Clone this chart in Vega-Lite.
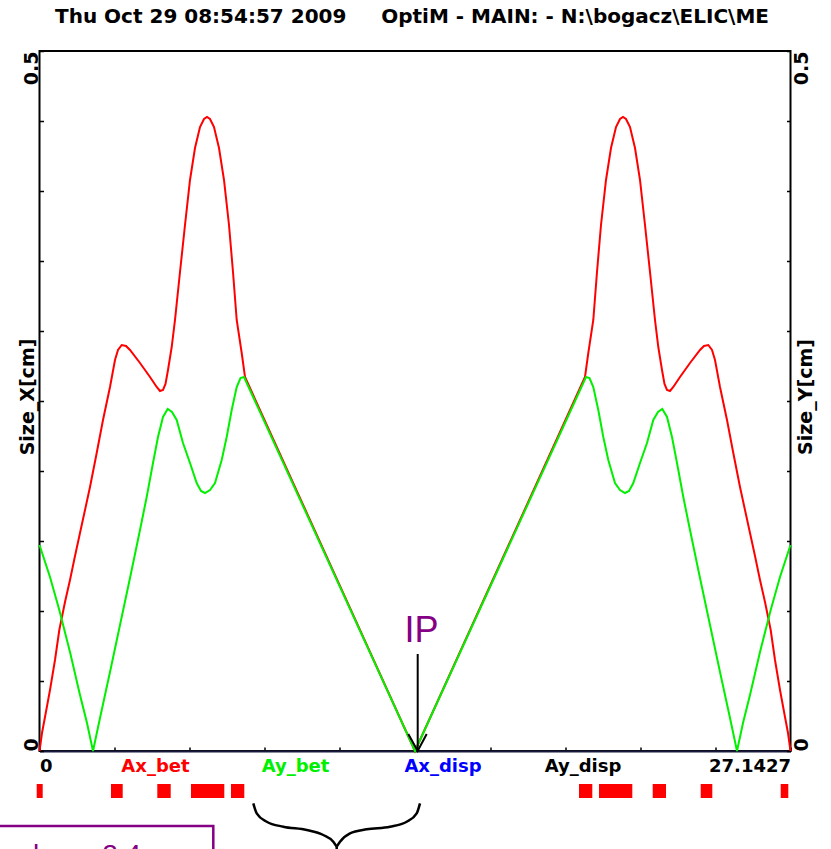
{
  "$schema": "https://vega.github.io/schema/vega-lite/v6.json",
  "width": 751,
  "height": 700,
  "autosize": {"type": "none"},
  "padding": {"left": 39.5, "top": 51, "right": 40.5, "bottom": 98},
  "title": {
    "text": "Thu Oct 29 08:54:57 2009\u00a0\u00a0\u00a0\u00a0\u00a0OptiM - MAIN: - N:\\bogacz\\ELIC\\ME",
    "anchor": "start",
    "frame": "group",
    "dx": 15.5,
    "offset": 7,
    "baseline": "alphabetic",
    "font": "DejaVu Sans",
    "fontSize": 20,
    "fontWeight": "bold",
    "color": "#000000"
  },
  "config": {
    "view": {"stroke": "#000000", "strokeWidth": 2},
    "font": "DejaVu Sans"
  },
  "datasets": {
    "red": [
      {"s": 0, "size": 0}, {"s": 0.0904, "size": 0.01286}, {"s": 0.1988, "size": 0.02429}, {"s": 0.3795, "size": 0.04357},
      {"s": 0.5602, "size": 0.065}, {"s": 0.7156, "size": 0.08643}, {"s": 0.9216, "size": 0.10643}, {"s": 1.1023, "size": 0.12214},
      {"s": 1.283, "size": 0.13929}, {"s": 1.4637, "size": 0.15571}, {"s": 1.6445, "size": 0.17214}, {"s": 1.8252, "size": 0.18857},
      {"s": 2.0673, "size": 0.21286}, {"s": 2.295, "size": 0.23643}, {"s": 2.548, "size": 0.26}, {"s": 2.7287, "size": 0.27929},
      {"s": 2.8372, "size": 0.28643}, {"s": 2.9709, "size": 0.29}, {"s": 3.1263, "size": 0.28929}, {"s": 3.2709, "size": 0.28643},
      {"s": 3.6323, "size": 0.27714}, {"s": 3.9937, "size": 0.26714}, {"s": 4.2359, "size": 0.26}, {"s": 4.3551, "size": 0.25714},
      {"s": 4.4636, "size": 0.25786}, {"s": 4.5539, "size": 0.26214}, {"s": 4.6443, "size": 0.27214}, {"s": 4.778, "size": 0.28857},
      {"s": 4.8973, "size": 0.30786}, {"s": 5.078, "size": 0.34214}, {"s": 5.2587, "size": 0.37571}, {"s": 5.4394, "size": 0.40786},
      {"s": 5.6201, "size": 0.43071}, {"s": 5.8008, "size": 0.44571}, {"s": 5.9454, "size": 0.45143}, {"s": 6.0538, "size": 0.45286},
      {"s": 6.1622, "size": 0.45143}, {"s": 6.3068, "size": 0.44571}, {"s": 6.4875, "size": 0.43071}, {"s": 6.6682, "size": 0.40786},
      {"s": 6.8489, "size": 0.37571}, {"s": 6.9935, "size": 0.34214}, {"s": 7.1272, "size": 0.30786}, {"s": 7.3079, "size": 0.28429},
      {"s": 7.4272, "size": 0.26714},
      {"s": 13.57135, "size": 0},
      {"s": 19.7155, "size": 0.26714}, {"s": 19.8348, "size": 0.28429}, {"s": 20.0155, "size": 0.30786}, {"s": 20.1492, "size": 0.34214},
      {"s": 20.2938, "size": 0.37571}, {"s": 20.4745, "size": 0.40786}, {"s": 20.6552, "size": 0.43071}, {"s": 20.8359, "size": 0.44571},
      {"s": 20.9805, "size": 0.45143}, {"s": 21.0889, "size": 0.45286}, {"s": 21.1973, "size": 0.45143}, {"s": 21.3419, "size": 0.44571},
      {"s": 21.5226, "size": 0.43071}, {"s": 21.7033, "size": 0.40786}, {"s": 21.884, "size": 0.37571}, {"s": 22.0647, "size": 0.34214},
      {"s": 22.2454, "size": 0.30786}, {"s": 22.3647, "size": 0.28857}, {"s": 22.4984, "size": 0.27214}, {"s": 22.5888, "size": 0.26214},
      {"s": 22.6791, "size": 0.25786}, {"s": 22.7876, "size": 0.25714}, {"s": 22.9068, "size": 0.26}, {"s": 23.149, "size": 0.26714},
      {"s": 23.5104, "size": 0.27714}, {"s": 23.8718, "size": 0.28643}, {"s": 24.0164, "size": 0.28929}, {"s": 24.1718, "size": 0.29},
      {"s": 24.3055, "size": 0.28643}, {"s": 24.414, "size": 0.27929}, {"s": 24.5947, "size": 0.26}, {"s": 24.8477, "size": 0.23643},
      {"s": 25.0754, "size": 0.21286}, {"s": 25.3175, "size": 0.18857}, {"s": 25.4982, "size": 0.17214}, {"s": 25.679, "size": 0.15571},
      {"s": 25.8597, "size": 0.13929}, {"s": 26.0404, "size": 0.12214}, {"s": 26.2211, "size": 0.10643}, {"s": 26.4271, "size": 0.08643},
      {"s": 26.5825, "size": 0.065}, {"s": 26.7632, "size": 0.04357}, {"s": 26.9439, "size": 0.02429}, {"s": 27.0523, "size": 0.01286},
      {"s": 27.1427, "size": 0}
    ],
    "green": [
      {"s": 0, "size": 0.14714}, {"s": 0.3795, "size": 0.12429}, {"s": 0.7156, "size": 0.10071}, {"s": 1.1023, "size": 0.07071},
      {"s": 1.4637, "size": 0.04}, {"s": 1.7168, "size": 0.02}, {"s": 1.9336, "size": 0}, {"s": 2.1866, "size": 0.02357},
      {"s": 2.548, "size": 0.05643}, {"s": 2.9094, "size": 0.09}, {"s": 3.2709, "size": 0.12357}, {"s": 3.6323, "size": 0.15786},
      {"s": 3.8744, "size": 0.18143}, {"s": 4.1021, "size": 0.20571}, {"s": 4.2828, "size": 0.22429}, {"s": 4.4636, "size": 0.23857},
      {"s": 4.6334, "size": 0.24429}, {"s": 4.7888, "size": 0.24214}, {"s": 4.9587, "size": 0.23643}, {"s": 5.1864, "size": 0.22},
      {"s": 5.4394, "size": 0.20571}, {"s": 5.6815, "size": 0.19143}, {"s": 5.8369, "size": 0.18571}, {"s": 5.9815, "size": 0.18429},
      {"s": 6.1622, "size": 0.18643}, {"s": 6.3429, "size": 0.19143}, {"s": 6.5851, "size": 0.20786}, {"s": 6.7658, "size": 0.22429},
      {"s": 6.9465, "size": 0.24357}, {"s": 7.1272, "size": 0.26}, {"s": 7.2645, "size": 0.26643}, {"s": 7.391, "size": 0.26714},
      {"s": 13.57135, "size": 0},
      {"s": 19.7517, "size": 0.26714}, {"s": 19.8782, "size": 0.26643}, {"s": 20.0155, "size": 0.26}, {"s": 20.1962, "size": 0.24357},
      {"s": 20.3769, "size": 0.22429}, {"s": 20.5576, "size": 0.20786}, {"s": 20.7998, "size": 0.19143}, {"s": 20.9805, "size": 0.18643},
      {"s": 21.1612, "size": 0.18429}, {"s": 21.3058, "size": 0.18571}, {"s": 21.4612, "size": 0.19143}, {"s": 21.7033, "size": 0.20571},
      {"s": 21.9563, "size": 0.22}, {"s": 22.184, "size": 0.23643}, {"s": 22.3539, "size": 0.24214}, {"s": 22.5093, "size": 0.24429},
      {"s": 22.6791, "size": 0.23857}, {"s": 22.8599, "size": 0.22429}, {"s": 23.0406, "size": 0.20571}, {"s": 23.2683, "size": 0.18143},
      {"s": 23.5104, "size": 0.15786}, {"s": 23.8718, "size": 0.12357}, {"s": 24.2333, "size": 0.09}, {"s": 24.5947, "size": 0.05643},
      {"s": 24.9561, "size": 0.02357}, {"s": 25.2091, "size": 0}, {"s": 25.4259, "size": 0.02}, {"s": 25.679, "size": 0.04},
      {"s": 26.0404, "size": 0.07071}, {"s": 26.4271, "size": 0.10071}, {"s": 26.7632, "size": 0.12429}, {"s": 27.1427, "size": 0.14714}
    ],
    "elements": [
      {"s1": -0.1012, "s2": 0.1157}, {"s1": 2.5842, "s2": 3.007}, {"s1": 4.2576, "s2": 4.7418}, {"s1": 5.4755, "s2": 6.6791},
      {"s1": 6.9212, "s2": 7.4019}, {"s1": 19.4987, "s2": 19.9794}, {"s1": 20.2215, "s2": 21.425}, {"s1": 22.1623, "s2": 22.643},
      {"s1": 23.8972, "s2": 24.3164}, {"s1": 26.7885, "s2": 27.0632}
    ],
    "arrowhead": [
      {"s": 13.329, "v": 0.01214}, {"s": 13.669, "v": 0}, {"s": 13.994, "v": 0.01214}
    ],
    "brace": [
      {"part": "left", "s": 7.7272, "v": -0.03736}, {"part": "left", "s": 7.8501, "v": -0.0445}, {"part": "left", "s": 8.2115, "v": -0.0505},
      {"part": "left", "s": 8.8114, "v": -0.05407}, {"part": "left", "s": 9.6572, "v": -0.05643}, {"part": "left", "s": 10.2571, "v": -0.06},
      {"part": "left", "s": 10.6186, "v": -0.06479}, {"part": "left", "s": 10.7415, "v": -0.06836},
      {"part": "right", "s": 10.7415, "v": -0.06836}, {"part": "right", "s": 10.8607, "v": -0.06479}, {"part": "right", "s": 11.2221, "v": -0.05879},
      {"part": "right", "s": 11.8257, "v": -0.05593}, {"part": "right", "s": 12.6678, "v": -0.05407}, {"part": "right", "s": 13.2714, "v": -0.0505},
      {"part": "right", "s": 13.6328, "v": -0.0445}, {"part": "right", "s": 13.7521, "v": -0.03736}
    ]
  },
  "layer": [
    {
      "data": {"name": "red"},
      "mark": {"type": "line", "color": "#ff0000", "strokeWidth": 2},
      "encoding": {
        "x": {
          "field": "s", "type": "quantitative",
          "scale": {"domain": [0, 27.1427], "nice": false, "zero": false},
          "axis": {
            "orient": "bottom",
            "values": [0, 2.71427, 5.42854, 8.14281, 10.85708, 13.57135, 16.28562, 18.99989, 21.71416, 24.42843, 27.1427],
            "labels": false, "ticks": true, "tickSize": -4, "tickColor": "#000000", "tickWidth": 1.5,
            "domain": true, "domainColor": "#1a1a40", "domainWidth": 2, "grid": false, "title": null
          }
        },
        "y": {
          "field": "size", "type": "quantitative",
          "scale": {"domain": [0, 0.5], "nice": false, "zero": false},
          "axis": {
            "orient": "left",
            "values": [0, 0.05, 0.1, 0.15, 0.2, 0.25, 0.3, 0.35, 0.4, 0.45, 0.5],
            "tickSize": -4, "tickColor": "#000000", "tickWidth": 1.5,
            "domain": false, "grid": false, "labelOverlap": false,
            "labelExpr": "datum.value == 0 ? '0' : (datum.value == 0.5 ? '0.5' : '')",
            "labelAngle": 270,
            "labelAlign": {"condition": {"test": "datum.value == 0", "value": "left"}, "value": "right"},
            "labelBaseline": "alphabetic",
            "labelPadding": 6.5,
            "labelFont": "DejaVu Sans", "labelFontWeight": "bold", "labelFontSize": 19, "labelColor": "#000000",
            "title": "Size_X[cm]", "titleAngle": 270, "titleX": -6.5, "titleY": 345.5,
            "titleAlign": "center", "titleBaseline": "alphabetic",
            "titleFont": "DejaVu Sans", "titleFontSize": 19, "titleFontWeight": "bold", "titleColor": "#000000"
          }
        }
      }
    },
    {
      "data": {"name": "green"},
      "mark": {"type": "line", "color": "#00f000", "strokeWidth": 2},
      "encoding": {
        "x": {
          "field": "s", "type": "quantitative",
          "scale": {"domain": [0, 27.1427], "nice": false, "zero": false},
          "axis": {
            "orient": "bottom",
            "offset": 0,
            "values": [0, 4.1744, 9.2343, 14.5653, 19.6252, 27.1427],
            "ticks": false, "domain": false, "grid": false, "title": null, "labelOverlap": false,
            "labelFlush": true,
            "labelExpr": "datum.value == 0 ? '0' : (datum.value > 27 ? '27.1427' : (datum.value < 5 ? 'Ax_bet' : (datum.value < 10 ? 'Ay_bet' : (datum.value < 15 ? 'Ax_disp' : 'Ay_disp'))))",
            "labelColor": {
              "condition": [
                {"test": "datum.value > 3 && datum.value < 5", "value": "#ff0000"},
                {"test": "datum.value > 8 && datum.value < 10", "value": "#00f000"},
                {"test": "datum.value > 14 && datum.value < 15", "value": "#0000ff"}
              ],
              "value": "#000000"
            },
            "labelBaseline": "alphabetic",
            "labelPadding": 20,
            "labelFont": "DejaVu Sans", "labelFontWeight": "bold", "labelFontSize": 18
          }
        },
        "y": {
          "field": "size", "type": "quantitative",
          "scale": {"domain": [0, 0.5], "nice": false, "zero": false},
          "axis": {
            "orient": "right",
            "values": [0, 0.05, 0.1, 0.15, 0.2, 0.25, 0.3, 0.35, 0.4, 0.45, 0.5],
            "tickSize": -4, "tickColor": "#000000", "tickWidth": 1.5,
            "domain": false, "grid": false, "labelOverlap": false,
            "labelExpr": "datum.value == 0 ? '0' : (datum.value == 0.5 ? '0.5' : '')",
            "labelAngle": 270,
            "labelAlign": {"condition": {"test": "datum.value == 0", "value": "left"}, "value": "right"},
            "labelBaseline": "alphabetic",
            "labelPadding": 20.5,
            "labelFont": "DejaVu Sans", "labelFontWeight": "bold", "labelFontSize": 19, "labelColor": "#000000",
            "title": "Size_Y[cm]", "titleAngle": 270, "titleX": 20.5, "titleY": 345.5,
            "titleAlign": "center", "titleBaseline": "alphabetic",
            "titleFont": "DejaVu Sans", "titleFontSize": 19, "titleFontWeight": "bold", "titleColor": "#000000"
          }
        }
      }
    },
    {
      "data": {"name": "elements"},
      "mark": {"type": "rect", "color": "#ff0000"},
      "encoding": {
        "x": {"field": "s1", "type": "quantitative", "scale": {"domain": [0, 27.1427], "nice": false, "zero": false}, "axis": null},
        "x2": {"field": "s2"},
        "y": {"datum": -0.02357, "type": "quantitative", "scale": {"domain": [0, 0.5], "nice": false, "zero": false}, "axis": null},
        "y2": {"datum": -0.03357}
      }
    },
    {
      "data": {"values": [{"label": "IP"}]},
      "mark": {"type": "rule", "color": "#000000", "strokeWidth": 2},
      "encoding": {
        "x": {"datum": 13.669, "type": "quantitative", "scale": {"domain": [0, 27.1427], "nice": false, "zero": false}, "axis": null},
        "y": {"datum": 0.0693, "type": "quantitative", "scale": {"domain": [0, 0.5], "nice": false, "zero": false}, "axis": null},
        "y2": {"datum": 0}
      }
    },
    {
      "data": {"name": "arrowhead"},
      "mark": {"type": "line", "color": "#000000", "strokeWidth": 2},
      "encoding": {
        "x": {"field": "s", "type": "quantitative", "scale": {"domain": [0, 27.1427], "nice": false, "zero": false}, "axis": null},
        "y": {"field": "v", "type": "quantitative", "scale": {"domain": [0, 0.5], "nice": false, "zero": false}, "axis": null}
      }
    },
    {
      "data": {"values": [{"label": "IP"}]},
      "mark": {"type": "text", "color": "#850085", "font": "Liberation Sans", "fontSize": 36, "align": "center", "baseline": "alphabetic"},
      "encoding": {
        "x": {"datum": 13.806, "type": "quantitative", "scale": {"domain": [0, 27.1427], "nice": false, "zero": false}, "axis": null},
        "y": {"datum": 0.0779, "type": "quantitative", "scale": {"domain": [0, 0.5], "nice": false, "zero": false}, "axis": null},
        "text": {"field": "label"}
      }
    },
    {
      "data": {"name": "brace"},
      "mark": {"type": "line", "color": "#000000", "strokeWidth": 2.5, "interpolate": "monotone"},
      "encoding": {
        "x": {"field": "s", "type": "quantitative", "scale": {"domain": [0, 27.1427], "nice": false, "zero": false}, "axis": null},
        "y": {"field": "v", "type": "quantitative", "scale": {"domain": [0, 0.5], "nice": false, "zero": false}, "axis": null},
        "detail": {"field": "part"}
      }
    },
    {
      "data": {"values": [{"label": "stem"}]},
      "mark": {"type": "rule", "color": "#000000", "strokeWidth": 2.5},
      "encoding": {
        "x": {"datum": 10.7415, "type": "quantitative", "scale": {"domain": [0, 27.1427], "nice": false, "zero": false}, "axis": null},
        "y": {"datum": -0.06836, "type": "quantitative", "scale": {"domain": [0, 0.5], "nice": false, "zero": false}, "axis": null},
        "y2": {"datum": -0.0779}
      }
    },
    {
      "data": {"values": [{"label": "box"}]},
      "mark": {"type": "rect", "fill": "#ffffff", "fillOpacity": 0, "stroke": "#850085", "strokeWidth": 2.5},
      "encoding": {
        "x": {"datum": -1.5, "type": "quantitative", "scale": {"domain": [0, 27.1427], "nice": false, "zero": false}, "axis": null},
        "x2": {"datum": 6.2815},
        "y": {"datum": -0.05357, "type": "quantitative", "scale": {"domain": [0, 0.5], "nice": false, "zero": false}, "axis": null},
        "y2": {"datum": -0.15}
      }
    },
    {
      "data": {"values": [{"label": "l\u00a0\u00a0 =\u00a0\u00a0 2.4"}]},
      "mark": {"type": "text", "color": "#850085", "font": "Liberation Sans", "fontSize": 28, "align": "left", "baseline": "alphabetic"},
      "encoding": {
        "x": {"datum": -0.2349, "type": "quantitative", "scale": {"domain": [0, 27.1427], "nice": false, "zero": false}, "axis": null},
        "y": {"datum": -0.0807, "type": "quantitative", "scale": {"domain": [0, 0.5], "nice": false, "zero": false}, "axis": null},
        "text": {"field": "label"}
      }
    }
  ],
  "resolve": {"axis": {"x": "independent", "y": "independent"}}
}
